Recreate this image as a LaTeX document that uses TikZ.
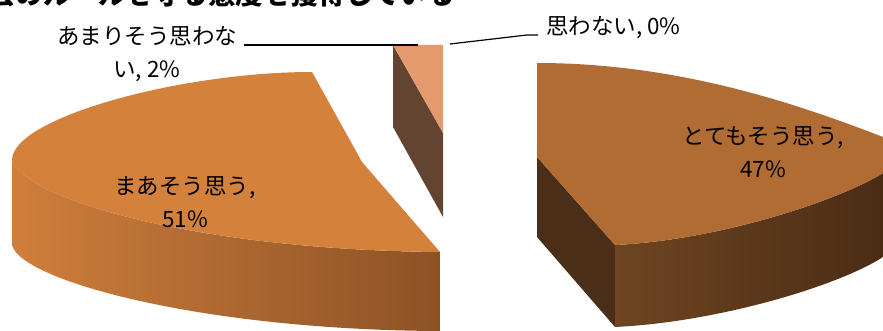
\documentclass[tikz,border=0pt]{standalone}
\usepackage{fontspec}
\setmainfont{Noto Sans CJK JP}
\usetikzlibrary{positioning}
\definecolor{midTop}{HTML}{D4813C}
\definecolor{midSideL}{HTML}{D07E3C}
\definecolor{midSideM}{HTML}{C87838}
\definecolor{midSideR}{HTML}{8C5226}
\definecolor{highTop}{HTML}{B06C32}
\definecolor{highWall}{HTML}{4B2E17}
\definecolor{highSideL}{HTML}{6E4522}
\definecolor{highSideR}{HTML}{4A2C15}
\definecolor{lowTop}{HTML}{E49A6C}
\definecolor{lowWall}{HTML}{634431}
\tikzset{%
  >=latex,
  lbl/.style={font=\fontsize{22.5}{33}\selectfont,align=center,inner sep=0pt},%
  leader/.style={line width=1.2pt,black},%
  face/.style={draw=none}%
}

\begin{document}
\begin{tikzpicture}[x=1pt,y=-1pt]
\useasboundingbox (0,0) rectangle (883,331);
\clip (0,0) rectangle (883,331);

% title, cut at the top
\node[anchor=base east,inner sep=0pt,font=\fontsize{27.5}{30}\selectfont\bfseries] (title) at (455,5) {社会のルールを守る態度を獲得している};

% slice まあそう思う
\shade[face,left color=midSideL,middle color=midSideM,right color=midSideR]
  (12,160) .. controls (25,200) and (200,250) .. (440,252) -- (440,331)
  .. controls (200,330) and (20,280) .. (12,245) -- cycle;
\fill[midTop] (12,160) .. controls (25,200) and (200,250) .. (440,252)
  -- (362,162) -- (312,72) .. controls (180,72) and (12,118) .. (12,160) -- cycle;

% slice とてもそう思う
\fill[highWall] (537,157) -- (615,245) -- (615,327) -- (537,237) -- cycle;
\shade[face,left color=highSideL,right color=highSideR]
  (615,245) .. controls (720,240) and (840,200) .. (883,173) -- (883,257)
  .. controls (840,285) and (720,322) .. (615,327) -- cycle;
\fill[highTop] (537,63) .. controls (680,63) and (800,105) .. (883,137) -- (883,173)
  .. controls (840,200) and (720,240) .. (615,245) -- (537,157) -- cycle;

% slice あまりそう思わない
\fill[lowWall] (393,45) -- (443,133) -- (443,217) -- (393,127) -- cycle;
\fill[lowTop] (393,45) -- (443,45) -- (443,133) -- cycle;

% labels
\node[lbl] (lowLbl) at (147,54) {あまりそう思わな\\い, 2\%};
\node[lbl] (midLbl) at (185,202) {まあそう思う,\\51\%};
\node[lbl] (highLbl) at (763,152) {とてもそう思う,\\47\%};
\node[lbl,anchor=west] (zeroLbl) at (546,28) {思わない, 0\%};

% leaders
\coordinate (lowEnd) at (418,45);
\coordinate (zeroTip) at (450,44);
\coordinate (zeroKnee) at (527,35);
\draw[leader] ([xshift=7pt]lowLbl.east |- lowEnd) -- (lowEnd);
\draw[leader] (zeroTip) -- (zeroKnee) -- ([xshift=-8pt]zeroKnee -| zeroLbl.west);
\end{tikzpicture}
\end{document}
